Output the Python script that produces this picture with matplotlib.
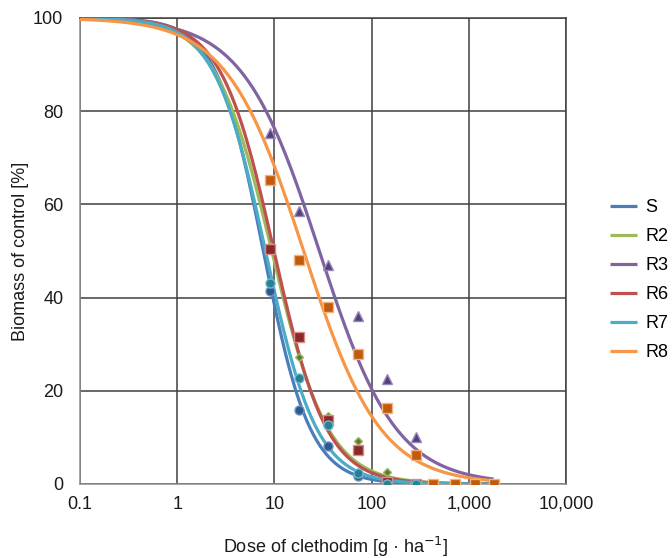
import numpy as np
import matplotlib
matplotlib.use("Agg")
import matplotlib.pyplot as plt
from matplotlib.ticker import FixedLocator, FixedFormatter

plt.rcParams['font.family'] = ['Liberation Sans', 'DejaVu Sans']

# ---- data ----
series = ["S", "R2", "R3", "R6", "R7", "R8"]
doses = [9, 18, 36, 72, 144, 288]
doses_r8 = [9, 18, 36, 72, 144, 288, 432, 720, 1152, 1800]
obs_S = [41.4, 15.9, 8.2, 1.7, 0.0, 0.0]
obs_R2 = [51.0, 27.3, 14.6, 9.2, 2.6, 0.0]
obs_R3 = [75.3, 58.6, 47.0, 36.0, 22.6, 10.0]
obs_R6 = [50.4, 31.5, 13.7, 7.4, 0.5, 0.0]
obs_R7 = [43.1, 22.7, 12.7, 2.4, 0.0, 0.0]
obs_R8 = [65.2, 48.0, 38.0, 28.0, 16.3, 6.2, 0.0, 0.0, 0.0, 0.0]

# fitted log-logistic parameters (ED50 [g/ha], slope b)
ed50 = [7.7, 9.4, 29.0, 9.9, 8.1, 20.0]
slope = [1.8, 1.5, 1.1, 1.6, 1.65, 1.1]
curve_min, curve_max = 0.1, 1800

xticks = [0.1, 1, 10, 100, 1000, 10000]
xticklabels = ["0.1", "1", "10", "100", "1,000", "10,000"]
yticks = [0, 20, 40, 60, 80, 100]

line_colors = ["#4A7EBB", "#9BBB59", "#8064A2", "#C0504D", "#4BACC6", "#F79646"]
marker_fill = ["#2C5A8C", "#5E7A2E", "#54437A", "#8A2A28", "#2B7F94", "#C25A0E"]
marker_edge = ["#6F93C4", "#9DB86A", "#9A88BC", "#D98C8A", "#6EB9CC", "#F5B27A"]
markers = ["o", "D", "^", "s", "o", "s"]
msizes = [6.5, 4.5, 7, 6.5, 6.5, 6.5]

obs = [obs_S, obs_R2, obs_R3, obs_R6, obs_R7, obs_R8]
obs_x = [doses, doses, doses, doses, doses, doses_r8]

fig = plt.figure(figsize=(6.72, 5.58), dpi=100)
ax = fig.add_axes([80/672, 1-484/558, (566-80)/672, (484-18)/558])

xs = np.logspace(np.log10(curve_min), np.log10(curve_max), 400)
for i, name in enumerate(series):
    ys = 100.0 / (1.0 + (xs / ed50[i]) ** slope[i])
    ax.plot(xs, ys, color=line_colors[i], lw=2.3, label=name, zorder=3,
            solid_capstyle='butt')

for i, name in enumerate(series):
    ax.plot(obs_x[i], obs[i], linestyle='none', marker=markers[i],
            ms=msizes[i], mfc=marker_fill[i], mec=marker_edge[i], mew=1.0,
            zorder=4)

ax.set_xscale('log')
ax.set_xlim(0.1, 10000)
ax.set_ylim(0, 100)
ax.xaxis.set_major_locator(FixedLocator(xticks))
ax.xaxis.set_major_formatter(FixedFormatter(xticklabels))
ax.xaxis.set_minor_locator(FixedLocator([]))
ax.set_yticks(yticks)
ax.grid(True, color="#404040", lw=1.1)
ax.set_axisbelow(True)
for s in ax.spines.values():
    s.set_color("#404040")
    s.set_linewidth(1.1)
ax.spines['left'].set_color("#8C8C8C")
ax.spines['bottom'].set_color("#8C8C8C")
ax.tick_params(length=0, labelsize=13, colors="#1a1a1a")
ax.tick_params(axis='x', pad=8.5)
ax.tick_params(axis='y', pad=12)

ax.set_xlabel("Dose of clethodim [g \u00b7 ha$^{\u22121}$]", fontsize=13, labelpad=16,
              color="#1a1a1a")
ax.xaxis.label.set_x((336 - 80) / 486)
ax.set_ylabel("Biomass of control [%]", fontsize=13, labelpad=3, color="#1a1a1a")

fig.legend(loc='upper left', bbox_to_anchor=(610/672, 1-199.5/558), frameon=False,
           fontsize=13, handlelength=1.5, handletextpad=0.44, labelspacing=0.66,
           borderaxespad=0, borderpad=0)

fig.savefig("out.png", dpi=100)
